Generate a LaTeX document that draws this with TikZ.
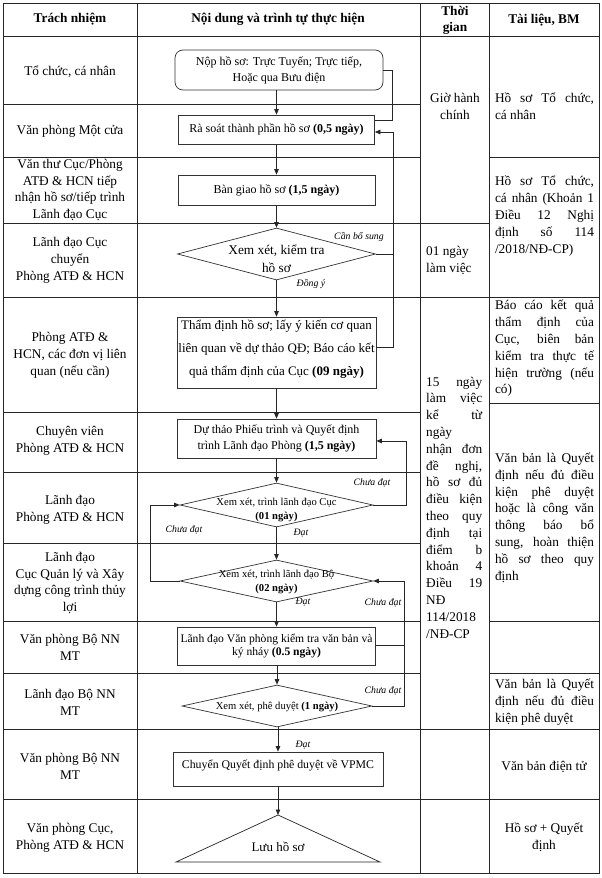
\documentclass[tikz,border=0pt]{standalone}
\usepackage{fontspec}
\setmainfont{Liberation Serif}
\usetikzlibrary{arrows.meta,shapes.geometric}
\newcommand\tblfont{\fontsize{13.3}{16.8}\selectfont}
\newcommand\boxfont{\fontsize{12}{16}\selectfont}
\newcommand\bigboxfont{\fontsize{13}{23}\selectfont}
\newcommand\dfont{\fontsize{10.6}{13.5}\selectfont}
\newcommand\vpfont{\fontsize{11.6}{13.5}\selectfont}
\newcommand\lblfont{\fontsize{9.8}{11}\selectfont}
\newcommand\jl[2]{\makebox[#1pt][s]{#2}}
\begin{document}
\begin{tikzpicture}[x=1pt,y=-1pt,
  grid/.style={line width=0.9pt, draw=black!85},
  cell/.style={inner sep=0pt, align=center, font=\tblfont},
  jcell/.style={inner sep=0pt, align=left, font=\tblfont},
  fbox/.style={draw=black!80, line width=0.7pt, rectangle, inner sep=0pt, align=center},
  dia/.style={draw=black!80, line width=0.7pt, diamond, inner sep=0pt},
  lbl/.style={inner sep=0pt, font=\lblfont\itshape},
  link/.style={draw=black!85, line width=0.7pt},
  arr/.style={link, -{Triangle[length=5.5pt,width=4.5pt]}},
]
\useasboundingbox (0,0) rectangle (602,878);
\fill[white] (0,0) rectangle (602,878);

% ---------- table grid ----------
\draw[grid] (3.5,3.5) rectangle (599,873);
\draw[grid] (137,3.5) -- (137,873) (420,3.5) -- (420,873) (489,3.5) -- (489,873);
\draw[grid] (3.5,36) -- (599,36);
\draw[grid] (3.5,104) -- (420,104);
\draw[grid] (3.5,157) -- (420,157) (489,157) -- (599,157);
\draw[grid] (3.5,223) -- (489,223);
\draw[grid] (3.5,297) -- (599,297);
\draw[grid] (489,403) -- (599,403);
\draw[grid] (3.5,412) -- (420,412);
\draw[grid] (3.5,472) -- (420,472);
\draw[grid] (3.5,543) -- (420,543);
\draw[grid] (3.5,621) -- (420,621) (489,621) -- (599,621);
\draw[grid] (3.5,673) -- (420,673) (489,673) -- (599,673);
\draw[grid] (3.5,729) -- (599,729);
\draw[grid] (3.5,799) -- (599,799);

% ---------- header ----------
\node[cell, font=\tblfont\bfseries] (h1) at (70,19) {Trách nhiệm};
\node[cell, font=\tblfont\bfseries] (h2) at (278,19) {Nội dung và trình tự thực hiện};
\node[cell, font=\fontsize{13.3}{16}\selectfont\bfseries] (h3) at (455,20) {Thời\\gian};
\node[cell, font=\tblfont\bfseries] (h4) at (544,20) {Tài liệu, BM};

% ---------- column 1 ----------
\node[cell] (r1) at (70,72) {Tổ chức, cá nhân};
\node[cell] (r2) at (70,131) {Văn phòng Một cửa};
\node[cell] (r3) at (70,190) {Văn thư Cục/Phòng\\ATĐ \& HCN tiếp\\nhận hồ sơ/tiếp trình\\Lãnh đạo Cục};
\node[cell] (r4) at (70,260.5) {Lãnh đạo Cục\\chuyển\\Phòng ATĐ \& HCN};
\node[cell] (r5) at (70,355.5) {Phòng ATĐ \&\\HCN, các đơn vị liên\\quan (nếu cần)};
\node[cell] (r6) at (70,441) {Chuyên viên\\Phòng ATĐ \& HCN};
\node[cell] (r7) at (70,509.5) {Lãnh đạo\\Phòng ATĐ \& HCN};
\node[cell] (r8) at (70,583) {Lãnh đạo\\Cục Quản lý và Xây\\dựng công trình thủy\\lợi};
\node[cell] (r9) at (70,647.5) {Văn phòng Bộ NN\\MT};
\node[cell] (r10) at (70,702) {Lãnh đạo Bộ NN\\MT};
\node[cell] (r11) at (70,766.5) {Văn phòng Bộ NN\\MT};
\node[cell] (r12) at (70,837.5) {Văn phòng Cục,\\Phòng ATĐ \& HCN};

% ---------- column 3 ----------
\node[cell] (c3a) at (455,106.5) {Giờ hành\\chính};
\node[jcell, anchor=west] (c3b) at (426,260.5) {01 ngày\\làm việc};
\node[jcell, anchor=west] (c3c) at (426,507.5) {\jl{56}{15 ngày}\\\jl{56}{làm việc}\\\jl{56}{kể từ}\\ngày\\\jl{56}{nhận đơn}\\\jl{56}{đề nghị,}\\\jl{56}{hồ sơ đủ}\\\jl{56}{điều kiện}\\\jl{56}{theo quy}\\\jl{56}{định tại}\\\jl{56}{điểm b}\\\jl{56}{khoản 4}\\\jl{56}{Điều 19}\\NĐ\\114/2018\\/NĐ-CP};

% ---------- column 4 ----------
\node[jcell] (c4a) at (544.5,106.5) {\jl{99}{Hồ sơ Tổ chức,}\\cá nhân};
\node[jcell] (c4b) at (544.5,216) {\jl{99}{Hồ sơ Tổ chức,}\\\jl{99}{cá nhân (Khoản 1}\\\jl{99}{Điều 12 Nghị}\\\jl{99}{định số 114}\\/2018/NĐ-CP)};
\node[jcell] (c4c) at (544.5,348.5) {\jl{99}{Báo cáo kết quả}\\\jl{99}{thẩm định của}\\\jl{99}{Cục, biên bản}\\\jl{99}{kiểm tra thực tế}\\\jl{99}{hiện trường (nếu}\\có)};
\node[jcell] (c4d) at (544.5,517.5) {\jl{99}{Văn bản là Quyết}\\\jl{99}{định nếu đủ điều}\\\jl{99}{kiện phê duyệt}\\\jl{99}{hoặc là công văn}\\\jl{99}{thông báo bổ}\\\jl{99}{sung, hoàn thiện}\\\jl{99}{hồ sơ theo quy}\\định};
\node[jcell] (c4e) at (544.5,702) {\jl{99}{Văn bản là Quyết}\\\jl{99}{định nếu đủ điều}\\kiện phê duyệt};
\node[cell] (c4f) at (544,767) {Văn bản điện tử};
\node[cell] (c4g) at (544,837.5) {Hồ sơ + Quyết\\định};

% ---------- flowchart ----------
\node[fbox, rounded corners=8pt, minimum width=208pt, minimum height=40pt, font=\boxfont] (nop) at (279,70) {Nộp hồ sơ: Trực Tuyến; Trực tiếp,\\Hoặc qua Bưu điện};
\node[fbox, minimum width=196pt, minimum height=29pt, font=\boxfont] (rs) at (276.5,129.5) {Rà soát thành phần hồ sơ \textbf{(0,5 ngày)}};
\node[fbox, minimum width=197pt, minimum height=30pt, font=\boxfont] (bg) at (276.5,190) {Bàn giao hồ sơ \textbf{(1,5 ngày)}};
\node[dia, minimum width=198pt, minimum height=52pt] (d1) at (276.5,254) {};
\node[cell, font=\fontsize{13.3}{18}\selectfont] (d1t) at (276.5,259) {Xem xét, kiểm tra\\hồ sơ};
\node[fbox, minimum width=199pt, minimum height=71pt] (td) at (276.5,352.5) {};
\node[cell, font=\bigboxfont] (tdt) at (276.5,349.5) {Thẩm định hồ sơ; lấy ý kiến cơ quan\\liên quan về dự thảo QĐ; Báo cáo kết\\quả thẩm định của Cục \textbf{(09 ngày)}};
\node[fbox, minimum width=199pt, minimum height=39pt, font=\boxfont] (dt) at (276.5,438.5) {Dự thảo Phiếu trình và Quyết định\\trình Lãnh đạo Phòng \textbf{(1,5 ngày)}};
\node[dia, minimum width=193pt, minimum height=44pt] (d2) at (276.5,505) {};
\node[cell, font=\dfont] (d2t) at (276.5,510) {Xem xét, trình lãnh đạo Cục\\\textbf{(01 ngày)}};
\node[dia, minimum width=193pt, minimum height=42pt] (d3) at (276.5,581) {};
\node[cell, font=\dfont] (d3t) at (276.5,582) {Xem xét, trình lãnh đạo Bộ\\\textbf{(02 ngày)}};
\node[fbox, minimum width=198pt, minimum height=38pt, font=\vpfont] (vp) at (276.5,646) {Lãnh đạo Văn phòng kiểm tra văn bản và\\ký nháy \textbf{(0.5 ngày)}};
\node[dia, minimum width=190pt, minimum height=42pt] (d4) at (277,706) {};
\node[cell, font=\dfont] (d4t) at (277,707) {Xem xét, phê duyệt \textbf{(1 ngày)}};
\node[fbox, minimum width=210pt, minimum height=34pt] (cq) at (278,769) {};
\node[cell, font=\fontsize{11.8}{14}\selectfont] (cqt) at (278,765) {Chuyển Quyết định phê duyệt về VPMC};
\coordinate (tA) at (278,815);
\coordinate (tL) at (176,862);
\coordinate (tR) at (380,862);
\draw[link] (tL) -- (tA) -- (tR) -- cycle;
\node[cell, font=\fontsize{13}{16}\selectfont] (luu) at (278,847) {Lưu hồ sơ};

% ---------- main flow ----------
\draw[arr] (nop.south -| rs.north) -- (rs.north);
\draw[arr] (rs.south) -- (bg.north);
\draw[arr] (bg.south) -- (d1.north);
\draw[arr] (d1.south) -- (td.north);
\draw[arr] (td.south) -- (dt.north);
\draw[arr] (dt.south) -- (d2.north);
\draw[arr] (d2.south) -- (d3.north);
\draw[arr] (d3.south) -- (vp.north);
\draw[arr] (vp.south -| d4.north) -- (d4.north);
\draw[arr] (d4.south -| cq.north) -- (cq.north);
\draw[arr] (cq.south -| tA) -- (tA);

% ---------- feedback ----------
\coordinate (p1) at (392,120);
\draw[link] (nop.east) -| (p1) -- (p1 -| rs.east);
\coordinate (p2) at (393,132);
\coordinate (q2) at (393,347);
\draw[arr] (d1.east) -| (p2) -- (p2 -| rs.east);
\draw[link] (q2 -| td.east) -- (q2) -- (q2 |- d1.east);
\coordinate (p3) at (406,441);
\draw[arr] (d2.east) -| (p3) -- (p3 -| dt.east);
\coordinate (p4) at (404,0);
\draw[arr] (d4.east) -| (p4 |- d3.east) -- (d3.east);
\coordinate (q4) at (404,645);
\draw[link] (q4 -| vp.east) -- (q4);
\coordinate (p5) at (150,0);
\draw[arr] (d3.west) -| (p5 |- d2.west) -- (d2.west);

% ---------- labels ----------
\node[lbl] (l1) at (359,237) {Cần bổ sung};
\node[lbl] (l2) at (311,284) {Đồng ý};
\node[lbl] (l3) at (372,483) {Chưa đạt};
\node[lbl] (l4) at (184,530) {Chưa đạt};
\node[lbl] (l5) at (301,533) {Đạt};
\node[lbl] (l6) at (383,603) {Chưa đạt};
\node[lbl] (l7) at (303,602) {Đạt};
\node[lbl] (l8) at (383,691) {Chưa đạt};
\node[lbl] (l9) at (303,745) {Đạt};
\end{tikzpicture}
\end{document}
